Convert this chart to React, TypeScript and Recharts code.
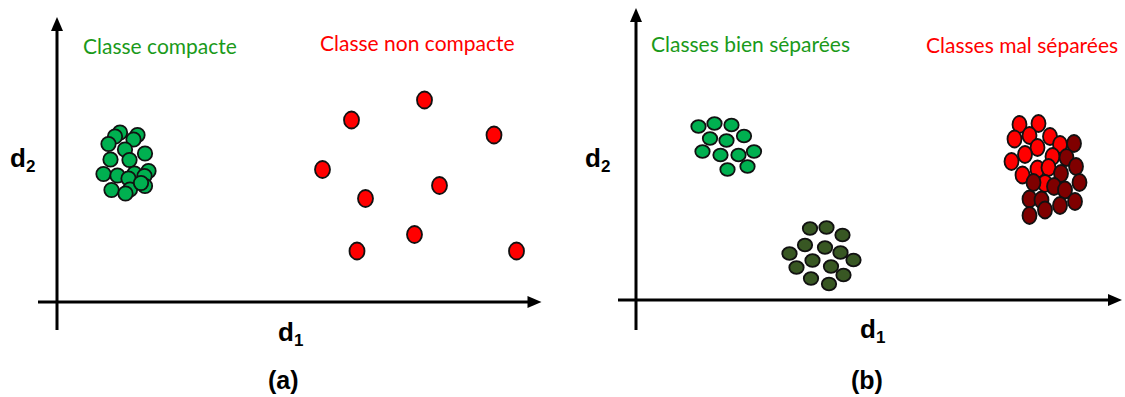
import { ScatterChart, Scatter, XAxis, YAxis, ReferenceLine } from "recharts";

// panel (a) : d1 / d2 units, origin where the axes cross
const compactClass = [
  { x: 12.6, y: 33.9 }, { x: 16.1, y: 33.4 }, { x: 11.6, y: 33.1 }, { x: 15.3, y: 32.5 },
  { x: 10.3, y: 31.6 }, { x: 13.6, y: 30.5 }, { x: 17.6, y: 29.7 }, { x: 10.7, y: 28.5 },
  { x: 14.5, y: 28.4 }, { x: 15.5, y: 25.7 }, { x: 18.3, y: 26.2 }, { x: 9.3, y: 25.6 },
  { x: 12.1, y: 25.3 }, { x: 17.5, y: 25.2 }, { x: 14.3, y: 24.7 }, { x: 14.6, y: 22.5 },
  { x: 17.6, y: 23.2 }, { x: 16.8, y: 23.8 }, { x: 10.9, y: 22.4 }, { x: 13.7, y: 21.7 },
];
const looseClass = [
  { x: 73.5, y: 40.4 }, { x: 58.9, y: 36.4 }, { x: 87.4, y: 33.4 }, { x: 53.1, y: 26.5 },
  { x: 76.5, y: 23.3 }, { x: 61.7, y: 20.7 }, { x: 71.5, y: 13.5 }, { x: 60.0, y: 10.2 },
  { x: 91.9, y: 10.2 },
];

// panel (b)
const separatedA = [
  { x: 12.5, y: 34.7 }, { x: 15.7, y: 35.3 }, { x: 19.1, y: 35.0 }, { x: 14.8, y: 32.3 },
  { x: 18.1, y: 31.9 }, { x: 21.6, y: 32.8 }, { x: 13.3, y: 29.7 }, { x: 16.9, y: 29.0 },
  { x: 20.5, y: 29.0 }, { x: 23.6, y: 29.7 }, { x: 18.3, y: 26.1 }, { x: 22.3, y: 26.7 },
];
const separatedB = [
  { x: 34.8, y: 14.3 }, { x: 38.1, y: 14.5 }, { x: 41.3, y: 13.0 }, { x: 33.8, y: 11.0 },
  { x: 37.8, y: 10.5 }, { x: 40.9, y: 9.5 }, { x: 30.7, y: 9.3 }, { x: 35.3, y: 7.9 },
  { x: 43.5, y: 8.0 }, { x: 32.1, y: 6.5 }, { x: 39.0, y: 6.7 }, { x: 41.5, y: 5.0 },
  { x: 35.0, y: 4.3 }, { x: 38.6, y: 3.2 },
];
const mixedA = [
  { x: 76.7, y: 35.1 }, { x: 80.5, y: 35.3 }, { x: 75.7, y: 32.2 }, { x: 78.7, y: 32.9 },
  { x: 82.8, y: 32.7 }, { x: 80.3, y: 30.5 }, { x: 84.8, y: 31.1 }, { x: 77.8, y: 29.1 },
  { x: 75.1, y: 27.7 }, { x: 83.3, y: 28.7 }, { x: 77.3, y: 25.0 }, { x: 80.3, y: 26.2 },
  { x: 82.5, y: 26.5 }, { x: 81.8, y: 23.3 },
];
const mixedB = [
  { x: 87.6, y: 31.3 }, { x: 86.1, y: 28.5 }, { x: 88.0, y: 26.7 }, { x: 85.0, y: 25.3 },
  { x: 79.5, y: 23.5 }, { x: 88.7, y: 23.5 }, { x: 83.6, y: 22.7 }, { x: 85.8, y: 22.0 },
  { x: 78.7, y: 20.2 }, { x: 81.1, y: 20.0 }, { x: 87.8, y: 19.7 }, { x: 84.8, y: 18.9 },
  { x: 81.8, y: 18.0 }, { x: 78.7, y: 16.9 },
];

const dot = (fill: string, rx: number, ry: number) => (p: any) => (
  <ellipse cx={p.cx} cy={p.cy} rx={rx} ry={ry} fill={fill} stroke="#111" strokeWidth={1.8} />
);
const arrowRight = (p: any) => (
  <polygon points={`${p.cx},${p.cy} ${p.cx - 14},${p.cy - 6} ${p.cx - 14},${p.cy + 6}`} fill="#000" />
);
const arrowUp = (p: any) => (
  <polygon points={`${p.cx},${p.cy} ${p.cx - 6},${p.cy + 14} ${p.cx + 6},${p.cy + 14}`} fill="#000" />
);

const txt = (left: number, top: number, size: number, color: string, extra: any = {}) => ({
  position: "absolute" as const, left, top, fontSize: size, color, lineHeight: 1,
  fontFamily: "Lato, 'Open Sans', sans-serif", whiteSpace: "nowrap" as const, ...extra,
});
const bold = { fontFamily: "'Liberation Sans', Arial, sans-serif", fontWeight: "bold" };
const sub = { fontSize: 17, verticalAlign: "-5px", lineHeight: 1 };

export default function App() {
  return (
    <div style={{ position: "absolute", left: 0, top: 0, width: 1125, height: 397, background: "#fff" }}>
      <div style={{ position: "absolute", left: 0, top: 0 }}>
        <ScatterChart width={570} height={397} margin={{ top: 0, right: 0, bottom: 0, left: 0 }}>
          <XAxis type="number" dataKey="x" domain={[-11.4, 102.6]} hide allowDataOverflow />
          <YAxis type="number" dataKey="y" domain={[-19, 60.4]} hide allowDataOverflow />
          <ReferenceLine segment={[{ x: -3.8, y: 0 }, { x: 95, y: 0 }]} stroke="#000" strokeWidth={3} />
          <ReferenceLine segment={[{ x: 0, y: -5.6 }, { x: 0, y: 55 }]} stroke="#000" strokeWidth={3} />
          <Scatter data={[{ x: 96.9, y: 0 }]} shape={arrowRight} isAnimationActive={false} />
          <Scatter data={[{ x: 0, y: 57 }]} shape={arrowUp} isAnimationActive={false} />
          <Scatter data={compactClass} shape={dot("#00B050", 7.2, 7.2)} isAnimationActive={false} />
          <Scatter data={looseClass} shape={dot("#FF0000", 7.5, 8.5)} isAnimationActive={false} />
        </ScatterChart>
      </div>
      <div style={{ position: "absolute", left: 570, top: 0 }}>
        <ScatterChart width={555} height={397} margin={{ top: 0, right: 0, bottom: 0, left: 0 }}>
          <XAxis type="number" dataKey="x" domain={[-13.2, 97.8]} hide allowDataOverflow />
          <YAxis type="number" dataKey="y" domain={[-19.4, 60]} hide allowDataOverflow />
          <ReferenceLine segment={[{ x: -3.6, y: 0 }, { x: 95.4, y: 0 }]} stroke="#000" strokeWidth={3} />
          <ReferenceLine segment={[{ x: 0, y: -6 }, { x: 0, y: 56 }]} stroke="#000" strokeWidth={3} />
          <Scatter data={[{ x: 97.2, y: 0 }]} shape={arrowRight} isAnimationActive={false} />
          <Scatter data={[{ x: 0, y: 58.4 }]} shape={arrowUp} isAnimationActive={false} />
          <Scatter data={separatedA} shape={dot("#00B050", 7.2, 6.4)} isAnimationActive={false} />
          <Scatter data={separatedB} shape={dot("#385723", 7.2, 6.4)} isAnimationActive={false} />
          <Scatter data={mixedA} shape={dot("#FF0000", 7, 8.5)} isAnimationActive={false} />
          <Scatter data={mixedB} shape={dot("#7F0000", 7, 8.5)} isAnimationActive={false} />
        </ScatterChart>
      </div>

      <span style={txt(83, 35, 21, "#1A9A1A")}>Classe compacte</span>
      <span style={txt(320, 32, 21, "#FF0000")}>Classe non compacte</span>
      <span style={txt(651, 33, 21, "#1A9A1A")}>Classes bien séparées</span>
      <span style={txt(926, 34, 21, "#FF0000")}>Classes mal séparées</span>

      <span style={txt(10, 145, 26, "#000", bold)}>d<span style={sub}>2</span></span>
      <span style={txt(585, 145, 26, "#000", bold)}>d<span style={sub}>2</span></span>
      <span style={txt(278, 319, 26, "#000", bold)}>d<span style={sub}>1</span></span>
      <span style={txt(860, 316, 26, "#000", bold)}>d<span style={sub}>1</span></span>
      <span style={txt(268, 368, 25, "#000", bold)}>(a)</span>
      <span style={txt(851, 368, 25, "#000", bold)}>(b)</span>
    </div>
  );
}
